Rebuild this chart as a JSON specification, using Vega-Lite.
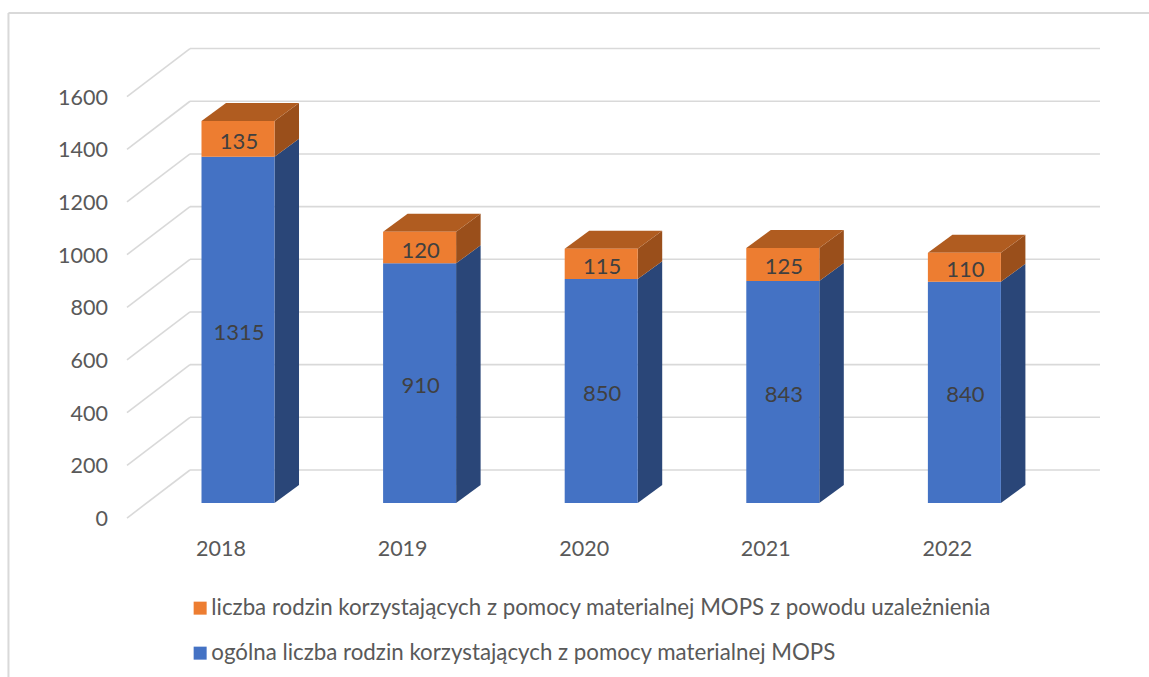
{
"$schema":"https://vega.github.io/schema/vega-lite/v6.json",
"width":1149,"height":677,"padding":0,"autosize":{"type":"none"},"background":"white",
"config":{"view":{"stroke":null},"font":"Lato"},
"datasets":{
"bars":[
{"year":2018,"series":"ogólna liczba rodzin korzystających z pomocy materialnej MOPS","value":1315},
{"year":2019,"series":"ogólna liczba rodzin korzystających z pomocy materialnej MOPS","value":910},
{"year":2020,"series":"ogólna liczba rodzin korzystających z pomocy materialnej MOPS","value":850},
{"year":2021,"series":"ogólna liczba rodzin korzystających z pomocy materialnej MOPS","value":843},
{"year":2022,"series":"ogólna liczba rodzin korzystających z pomocy materialnej MOPS","value":840},
{"year":2018,"series":"liczba rodzin korzystających z pomocy materialnej MOPS z powodu uzależnienia","value":135},
{"year":2019,"series":"liczba rodzin korzystających z pomocy materialnej MOPS z powodu uzależnienia","value":120},
{"year":2020,"series":"liczba rodzin korzystających z pomocy materialnej MOPS z powodu uzależnienia","value":115},
{"year":2021,"series":"liczba rodzin korzystających z pomocy materialnej MOPS z powodu uzależnienia","value":125},
{"year":2022,"series":"liczba rodzin korzystających z pomocy materialnej MOPS z powodu uzależnienia","value":110}
],
"ticks":[{"tick":0},{"tick":200},{"tick":400},{"tick":600},{"tick":800},{"tick":1000},{"tick":1200},{"tick":1400},{"tick":1600}]
},
"encoding":{
"x":{"type":"quantitative","title":null,"scale":{"domain":[2016.6894,2023.0166],"nice":false,"zero":false},
 "axis":{"orient":"bottom","offset":-128,"values":[2018,2019,2020,2021,2022],"format":"d","domain":false,"ticks":false,"grid":false,"labelFont":"Lato","labelFontSize":21.5,"labelColor":"#595959","labelOffset":-17.5,"labelPadding":0,"labelBaseline":"middle","labelOverlap":false,"title":null}},
"y":{"type":"quantitative","title":null,"scale":{"domain":[-660.6,1909.7],"nice":false,"zero":false},
 "axis":{"orient":"left","offset":-107.5,"values":[0,200,400,600,800,1000,1200,1400,1600],"format":"d","domain":false,"ticks":false,"grid":false,"labelFont":"Lato","labelFontSize":21.5,"labelColor":"#595959","labelOffset":16.5,"labelPadding":0,"labelOverlap":false,"labelBaseline":"middle","title":null}}
},
"layer":[
{"data":{"values":[{}]},"mark":{"type":"rule","color":"#d9d9d9","strokeWidth":2},
 "encoding":{"x":{"datum":2016.736},"y":{"datum":-660.6},"y2":{"datum":1860}}},
{"data":{"values":[{}]},"mark":{"type":"rule","color":"#d9d9d9","strokeWidth":2},
 "encoding":{"x":{"datum":2016.736},"x2":{"datum":2023.0166},"y":{"datum":1860}}},
{"data":{"name":"ticks"},
 "transform":[{"calculate":"datum.tick+125.3","as":"back"},{"calculate":"2017.7357","as":"xa"},{"calculate":"2022.7467","as":"xb"}],
 "mark":{"type":"rule","color":"#d9d9d9","strokeWidth":1.6},
 "encoding":{
  "x":{"field":"xa","type":"quantitative"},
  "x2":{"field":"xb"},
  "y":{"field":"back","type":"quantitative"}
 }},
{"data":{"name":"ticks"},
 "transform":[{"calculate":"[0,1]","as":"t"},{"flatten":["t"]},
  {"calculate":"2017.3887+datum.t*0.347","as":"px"},{"calculate":"datum.tick-57+datum.t*182.3","as":"py"}],
 "mark":{"type":"line","color":"#d9d9d9","strokeWidth":1.6},
 "encoding":{"x":{"field":"px","type":"quantitative"},"y":{"field":"py","type":"quantitative"},"detail":{"field":"tick"}}},
{"data":{"name":"bars"},
 "transform":[{"stack":"value","groupby":["year"],"sort":[{"field":"series","order":"descending"}],"as":["y0","y1"]},
  {"calculate":"[0,1]","as":"t"},{"flatten":["t"]},
  {"calculate":"datum.year+0.201+datum.t*0.135","as":"px"},
  {"calculate":"datum.y1+datum.t*68.3","as":"top"},
  {"calculate":"datum.y0+datum.t*68.3","as":"bot"}],
 "mark":{"type":"area","orient":"vertical"},
 "encoding":{"x":{"field":"px","type":"quantitative"},"y":{"field":"top","type":"quantitative"},"y2":{"field":"bot"},
  "detail":[{"field":"year"},{"field":"series"}],
  "color":{"condition":{"test":"datum.series[0]=='l'","value":"#9a4f1b"},"value":"#2a4678"}}},
{"data":{"name":"bars"},
 "transform":[{"stack":"value","groupby":["year"],"sort":[{"field":"series","order":"descending"}],"as":["y0","y1"]},
  {"filter":"datum.series[0]=='l'"},
  {"calculate":"[[-0.201,0,0],[-0.066,68.3,0],[0.201,68.3,0],[0.336,68.3,68.3]]","as":"p"},{"flatten":["p"]},
  {"calculate":"datum.year+datum.p[0]","as":"px"},
  {"calculate":"datum.y1+datum.p[1]","as":"top"},
  {"calculate":"datum.y1+datum.p[2]","as":"bot"}],
 "mark":{"type":"area","orient":"vertical","color":"#b05c20"},
 "encoding":{"x":{"field":"px","type":"quantitative"},"y":{"field":"top","type":"quantitative"},"y2":{"field":"bot"},"detail":{"field":"year"}}},
{"data":{"name":"bars"},
 "transform":[{"stack":"value","groupby":["year"],"sort":[{"field":"series","order":"descending"}],"as":["y0","y1"]},
  {"calculate":"datum.year-0.201","as":"xl"},{"calculate":"datum.year+0.201","as":"xr"}],
 "mark":{"type":"rect"},
 "encoding":{"x":{"field":"xl","type":"quantitative"},"x2":{"field":"xr"},"y":{"field":"y0","type":"quantitative"},"y2":{"field":"y1"},
  "color":{"field":"series","type":"nominal",
   "scale":{"domain":["liczba rodzin korzystających z pomocy materialnej MOPS z powodu uzależnienia","ogólna liczba rodzin korzystających z pomocy materialnej MOPS"],"range":["#ed7d31","#4472c4"]},
   "legend":{"orient":"none","legendX":189,"legendY":597,"title":null,"direction":"vertical","symbolType":"square","symbolSize":169,"symbolStrokeWidth":0,"labelFont":"Lato","labelFontSize":22.3,"labelColor":"#595959","labelLimit":1000,"rowPadding":22,"labelOffset":0}}}},
{"data":{"name":"bars"},
 "transform":[{"stack":"value","groupby":["year"],"sort":[{"field":"series","order":"descending"}],"as":["y0","y1"]},
  {"calculate":"(datum.y0+datum.y1)/2","as":"mid"}],
 "mark":{"type":"text","font":"Lato","fontSize":22,"color":"#404040","dy":3,"dx":1,"baseline":"middle","align":"center"},
 "encoding":{"x":{"field":"year","type":"quantitative"},"y":{"field":"mid","type":"quantitative"},"text":{"field":"value","type":"quantitative","format":"d"}}}
]
}
